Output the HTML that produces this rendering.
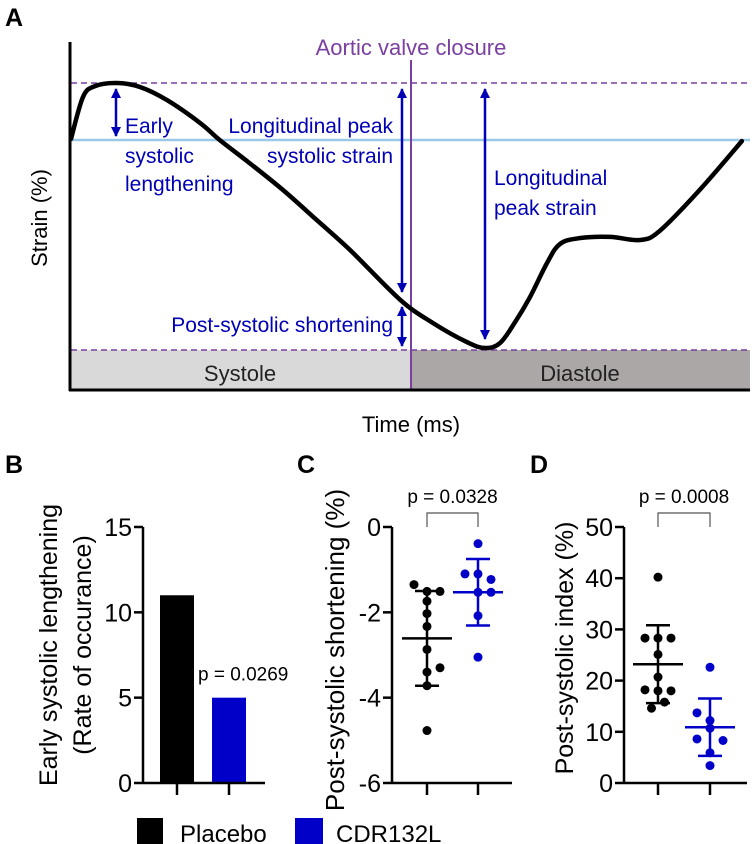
<!DOCTYPE html>
<html><head><meta charset="utf-8">
<style>
html,body{margin:0;padding:0;background:#fff;}
svg{display:block;font-family:"Liberation Sans","DejaVu Sans",sans-serif;}
</style></head>
<body>
<svg id="fig" width="752" height="844" viewBox="0 0 752 844" xmlns="http://www.w3.org/2000/svg">
  <text x="5" y="26" font-size="25" font-weight="bold">A</text>
  <rect x="71" y="350" width="340" height="39" fill="#d9d9d9"/>
  <rect x="411" y="350" width="339" height="39" fill="#aba7a7"/>
  <text x="240" y="381" font-size="22" text-anchor="middle" fill="#222">Systole</text>
  <text x="580" y="381" font-size="22" text-anchor="middle" fill="#222">Diastole</text>
  <line x1="71" y1="83" x2="750" y2="83" stroke="#7a3fa0" stroke-width="1.5" stroke-dasharray="6,4"/>
  <line x1="71" y1="350" x2="750" y2="350" stroke="#7a3fa0" stroke-width="1.5" stroke-dasharray="6,4"/>
  <line x1="71" y1="140" x2="750" y2="140" stroke="#9cc8e8" stroke-width="2.5"/>
  <line x1="411" y1="60" x2="411" y2="390" stroke="#7a3fa0" stroke-width="2"/>
  <text x="411" y="55" font-size="22" text-anchor="middle" fill="#7a3fa0">Aortic valve closure</text>
  <g id="strainCurve"></g>
  <line x1="70" y1="42" x2="70" y2="391" stroke="#000" stroke-width="3"/>
  <line x1="69" y1="390" x2="750" y2="390" stroke="#000" stroke-width="3"/>
  <text transform="translate(47,218) rotate(-90)" font-size="22" text-anchor="middle">Strain (%)</text>
  <text x="411" y="432" font-size="22" text-anchor="middle">Time (ms)</text>
  <g fill="#0000b4" font-size="21">
    <text x="125" y="133">Early</text>
    <text x="125" y="163">systolic</text>
    <text x="125" y="191">lengthening</text>
    <text x="393" y="133" text-anchor="end">Longitudinal peak</text>
    <text x="393" y="163" text-anchor="end">systolic strain</text>
    <text x="393" y="332" text-anchor="end">Post-systolic shortening</text>
    <text x="494" y="185">Longitudinal</text>
    <text x="494" y="215">peak strain</text>
  </g>
  <defs>
    <marker id="ah" viewBox="0 0 10 10" refX="9" refY="5" markerWidth="4" markerHeight="4" orient="auto-start-reverse"><path d="M0,0L10,5L0,10z" fill="#0000b4"/></marker>
  </defs>
  <g stroke="#0000b4" stroke-width="2.5">
    <line x1="116" y1="89" x2="116" y2="136" marker-start="url(#ah)" marker-end="url(#ah)"/>
    <line x1="402" y1="89" x2="402" y2="292" marker-start="url(#ah)" marker-end="url(#ah)"/>
    <line x1="402" y1="307" x2="402" y2="346" marker-start="url(#ah)" marker-end="url(#ah)"/>
    <line x1="485" y1="89" x2="485" y2="339" marker-start="url(#ah)" marker-end="url(#ah)"/>
  </g>

  <text x="5" y="473" font-size="25" font-weight="bold">B</text>
  <text x="297" y="473" font-size="25" font-weight="bold">C</text>
  <text x="530" y="473" font-size="25" font-weight="bold">D</text>

  <g id="panelB"></g>
  <g id="panelC"></g>
  <g id="panelD"></g>

  <text transform="translate(57,645) rotate(-90)" font-size="25" text-anchor="middle">Early systolic lengthening</text>
  <text transform="translate(91,645) rotate(-90)" font-size="25" text-anchor="middle">(Rate of occurance)</text>
  <text transform="translate(344,650) rotate(-90)" font-size="26" text-anchor="middle">Post-systolic shortening (%)</text>
  <text transform="translate(573,648) rotate(-90)" font-size="25" text-anchor="middle">Post-systolic index (%)</text>

  <rect x="137" y="818" width="26" height="26" fill="#000"/>
  <text x="180" y="842" font-size="24">Placebo</text>
  <rect x="295" y="818" width="28" height="26" fill="#0000c8"/>
  <text x="336" y="842" font-size="24">CDR132L</text>
</svg>
<script>
// Panel A strain curve data
const curveTime = [0,1.77,3.53,6.77,10.16,14.14,19.0,21.9,26.3,31.2,36.2,41.1,48.5,53.3,58.3,61.0,63.2,65.4,67.6,70.1,72.0,75.0,79.4,83.8,86.7,92.6,98.8];
const curveStrain = [0.04,1.51,1.89,2.0,1.86,1.40,0.6,0,-0.81,-1.75,-2.81,-3.86,-5.61,-6.42,-7.09,-7.3,-7.12,-6.39,-5.51,-4.32,-3.65,-3.44,-3.4,-3.51,-3.19,-1.75,-0.04];
// Panel B
const bCategories = ["Placebo","CDR132L"];
const bValues = [11,5];
const bTicks = [0,5,10,15];
// Panel C
const cPlacebo = [-1.35,-1.51,-1.51,-1.74,-2.03,-2.33,-2.87,-3.3,-3.4,-3.72,-4.77];
const cPlaceboOffset = [-1,1,0,0,0,0,0,1,0,0,0];
const cDrug = [-0.39,-1.1,-1.1,-1.23,-1.53,-1.53,-2.08,-3.05];
const cDrugOffset = [0,-1,0,1,0,1,0,0];
const cMean = [-2.61,-1.53];
const cSD = [1.11,0.78];
const cTicks = [0,-2,-4,-6];
// Panel D
const dPlacebo = [40.2,28.3,28.3,28.3,25.1,20.7,18.2,18.0,18.0,15.8,14.6];
const dPlaceboOffset = [0,-1,0,1,0,0,-1,1,0,0.5,-0.5];
const dDrug = [22.6,13.7,12.2,10.7,8.6,8.3,5.9,3.4];
const dDrugOffset = [0,-1,0,0,-1,1,0,0];
const dMean = [23.2,10.9];
const dSD = [7.6,5.6];
const dTicks = [0,10,20,30,40,50];

const NS="http://www.w3.org/2000/svg";
function mk(parent,tag,attrs){const e=document.createElementNS(NS,tag);for(const k in attrs)e.setAttribute(k,attrs[k]);parent.appendChild(e);return e;}

const ax = t => 71 + t*(750-71)/100;
const ay = s => 140 - s*28.5;
(function(){
  const g=document.getElementById('strainCurve');
  const P=curveTime.map((t,i)=>[ax(t),ay(curveStrain[i])]);
  let d="M"+P[0][0]+","+P[0][1];
  for(let i=0;i<P.length-1;i++){
    const p0=P[Math.max(i-1,0)],p1=P[i],p2=P[i+1],p3=P[Math.min(i+2,P.length-1)];
    const c1=[p1[0]+(p2[0]-p0[0])/6,p1[1]+(p2[1]-p0[1])/6];
    const c2=[p2[0]-(p3[0]-p1[0])/6,p2[1]-(p3[1]-p1[1])/6];
    d+=" C"+c1.join(",")+" "+c2.join(",")+" "+p2.join(",");
  }
  const path=mk(g,'path',{d:d,fill:'none',stroke:'#000','stroke-width':4.5,'stroke-linecap':'round'});
  
  
})();

function axes(g,axisX,xEnd,topVal,ticks,yfn,name,groupXs){
  const a=mk(g,'line',{x1:axisX,y1:yfn(topVal),x2:axisX,y2:784,stroke:'#000','stroke-width':2.5});
  
  
  const b=mk(g,'line',{x1:axisX,y1:783,x2:xEnd,y2:783,stroke:'#000','stroke-width':2.5});
  
  
  ticks.forEach(v=>{
    const y=yfn(v);
    const t=mk(g,'line',{x1:axisX-9,y1:y,x2:axisX,y2:y,stroke:'#000','stroke-width':2.5});
    
    
    const l=mk(g,'text',{x:axisX-11,y:y+9,'font-size':25,'text-anchor':'end'});
    l.textContent=v;
    
    
  });
  groupXs.forEach(x=>{
    const t=mk(g,'line',{x1:x,y1:783,x2:x,y2:795,stroke:'#000','stroke-width':2.5});
    
    
  });
}

(function(){
  const g=document.getElementById('panelB');
  const y=v=>783 - v*(256/15);
  const xs=[177,229];
  const colors=['#000','#0000c8'];
  bValues.forEach((v,i)=>{
    const r=mk(g,'rect',{x:xs[i]-17,y:y(v),width:34,height:783-y(v),fill:colors[i]});
    
    
  });
  axes(g,143,265,15,bTicks,y,'b',xs);
  const p=mk(g,'text',{x:198,y:y(bValues[1])-17,'font-size':19});
  p.textContent='p = 0.0269';
  
  
})();

function scatter(gid,name,axisX,xEnd,xs,topVal,ticks,y,placebo,poff,drug,doff,mean,sd,ptext){
  const g=document.getElementById(gid);
  axes(g,axisX,xEnd,topVal,ticks,y,name,xs);
  const groups=[[placebo,poff,'#000'],[drug,doff,'#0000c8']];
  groups.forEach((gr,gi)=>{
    const cx=xs[gi];
    gr[0].forEach((v,i)=>{
      const c=mk(g,'circle',{cx:cx+gr[1][i]*13,cy:y(v),r:4.5,fill:gr[2]});
      
      
    });
    const m=mk(g,'line',{x1:cx-25,y1:y(mean[gi]),x2:cx+25,y2:y(mean[gi]),stroke:gr[2],'stroke-width':2.5});
    
    
    const top=y(mean[gi]+sd[gi]), bot=y(mean[gi]-sd[gi]);
    const e=mk(g,'path',{d:`M${cx},${top}L${cx},${bot}M${cx-12},${top}L${cx+12},${top}M${cx-12},${bot}L${cx+12},${bot}`,stroke:gr[2],'stroke-width':2.5,fill:'none'});
    
    
  });
  const br=mk(g,'path',{d:`M${xs[0]},527L${xs[0]},513L${xs[1]},513L${xs[1]},527`,stroke:'#555','stroke-width':1.2,fill:'none'});
  
  
  const t=mk(g,'text',{x:(xs[0]+xs[1])/2,y:503,'font-size':19,'text-anchor':'middle'});
  t.textContent=ptext;
  
  
}
scatter('panelC','c',392,512,[427,478],0,cTicks,v=>527 - v*(256/6),cPlacebo,cPlaceboOffset,cDrug,cDrugOffset,cMean,cSD,'p = 0.0328');
scatter('panelD','d',624,747,[658,710],50,dTicks,v=>783 - v*(256/50),dPlacebo,dPlaceboOffset,dDrug,dDrugOffset,dMean,dSD,'p = 0.0008');
</script>
</body></html>
